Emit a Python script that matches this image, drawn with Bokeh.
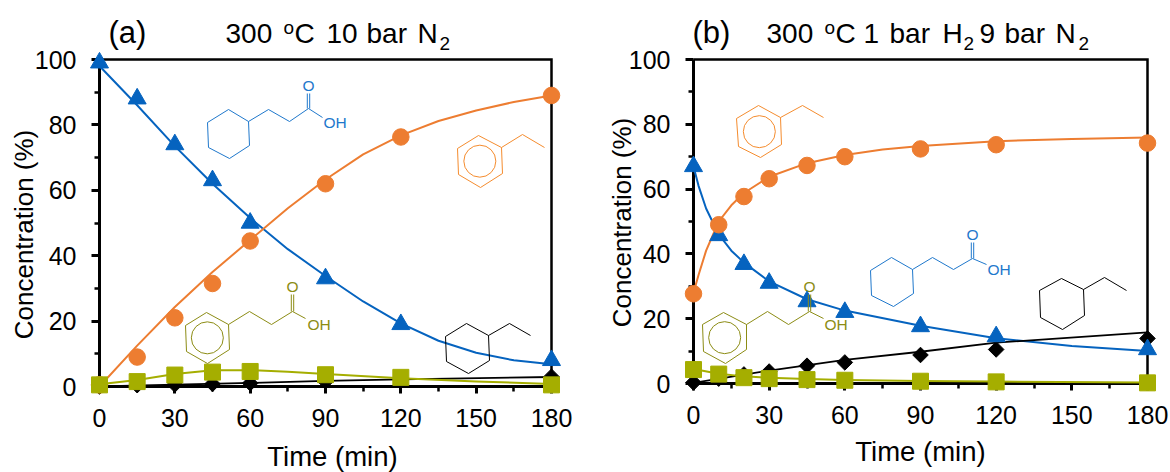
from math import pi
from bokeh.embed import file_html
from bokeh.layouts import row
from bokeh.models import FixedTicker, Label, Range1d
from bokeh.plotting import figure
from bokeh.resources import INLINE

X_MAJOR = [0, 30, 60, 90, 120, 150, 180]
X_MINOR = [15, 45, 75, 105, 135, 165]
Y_MAJOR = [0, 20, 40, 60, 80, 100]
Y_MINOR = [10, 30, 50, 70, 90]

# Panel (a) measured points
a_time = [0, 15, 30, 45, 60, 90, 120, 180]
a_acid = [99, 88, 74, 63, 50, 33, 19, 8]
a_ethylbenzene = [0.5, 9, 21, 31.5, 44.5, 62, 76.3, 89]
a_ethylcyclohexane = [0, 0.4, 0.6, 0.8, 1, 1.5, 2, 3]
a_phenylpropanoic = [0.5, 1.5, 3.5, 4.4, 4.6, 3.6, 2.8, 0.5]
# Panel (a) fitted curves
a_acid_ct = [0, 15, 30, 45, 60, 75, 90, 105, 120, 135, 150, 165, 180]
a_acid_c = [98, 86, 73.5, 62, 51.5, 42, 33.8, 26, 19.3, 14, 10.3, 8, 6.8]
a_eb_ct = [0, 15, 30, 45, 60, 75, 90, 105, 120, 135, 150, 165, 180]
a_eb_c = [0, 12.5, 24.3, 35, 44.8, 54.5, 63.3, 71, 76.8, 81.2, 84.4, 87, 89]
a_ec_ct = [0, 60, 90, 120, 180]
a_ec_c = [0, 1.1, 1.7, 2.2, 2.9]
a_pp_ct = [0, 15, 30, 45, 60, 75, 90, 120, 150, 180]
a_pp_c = [0.7, 2, 3.8, 5, 5, 4.5, 3.8, 2.5, 1.5, 0.8]

# Panel (b) measured points
b_time = [0, 10, 20, 30, 45, 60, 90, 120, 180]
b_acid = [67, 45.7, 36.8, 31, 25.3, 22, 17.6, 14.5, 10.5]
b_ethylbenzene = [27.7, 49, 57.7, 63.2, 67.3, 70, 72.4, 73.7, 74.2]
b_ethylcyclohexane = [0.3, 1.5, 2.8, 3.7, 5.5, 6.5, 8.8, 10.5, 13.9]
b_phenylpropanoic = [4.3, 2.9, 1.8, 1.5, 1.2, 1, 0.7, 0.5, 0.2]
# Panel (b) fitted curves
b_acid_ct = [0, 2, 5, 10, 15, 20, 30, 45, 60, 90, 120, 150, 180]
b_acid_c = [67, 61, 54, 46, 41, 37.3, 31.5, 26, 22.5, 17.8, 14, 11.6, 10]
b_eb_ct = [0, 2, 5, 10, 15, 20, 30, 45, 60, 75, 90, 120, 150, 180]
b_eb_c = [28, 33.5, 41, 50, 55, 58.8, 63.8, 68, 70.5, 72.2, 73.3, 74.8, 75.5, 75.9]
b_ec_ct = [0, 30, 60, 90, 120, 180]
b_ec_c = [0.2, 4, 7.3, 9.8, 12.6, 15.8]
b_pp_ct = [0, 10, 20, 30, 45, 60, 90, 120, 180]
b_pp_c = [4.5, 3, 2.2, 1.8, 1.4, 1.1, 0.8, 0.6, 0.3]

BLUE = "#0563BF"
ORANGE = "#ED7D31"
OLIVE = "#A5AE00"
BLACK = "#000000"
M_BLUE = "#1F78CC"
M_ORANGE = "#F58C2E"
M_OLIVE = "#8C8C14"
FONT = "Liberation Sans"
H = 472


def make_panel(x0, x1, y0, y100, page_left, width):
    sx = (x1 - x0) / 180
    sy = (y0 - y100) / 100

    def dx(px):
        return (px - x0) / sx

    def dy(py):
        return (y0 - py) / sy

    p = figure(
        width=width, height=H, output_backend="svg", toolbar_location=None,
        x_range=Range1d(dx(page_left), dx(page_left + width)),
        y_range=Range1d(dy(H), dy(0)),
        min_border=0, min_border_left=0, min_border_right=0, min_border_top=0, min_border_bottom=0,
        outline_line_color=None, background_fill_color="white", border_fill_color="white",
    )
    p.grid.visible = False
    for ax, major, minor, hi, mt, nt, standoff in (
        (p.xaxis[0], X_MAJOR, X_MINOR, 180, 7, 5, 15),
        (p.yaxis[0], Y_MAJOR, Y_MINOR, 100, 8, 5, 15),
    ):
        ax.ticker = FixedTicker(ticks=major, minor_ticks=minor)
        ax.fixed_location = 0
        ax.bounds = (0, hi)
        ax.axis_line_color = BLACK
        ax.axis_line_width = 3
        ax.major_tick_line_color = BLACK
        ax.major_tick_line_width = 3
        ax.major_tick_in = 0
        ax.major_tick_out = mt
        ax.minor_tick_line_color = BLACK
        ax.minor_tick_line_width = 2.5
        ax.minor_tick_in = 0
        ax.minor_tick_out = nt
        ax.major_label_standoff = standoff
        ax.major_label_text_font = FONT
        ax.major_label_text_font_size = "25px"
        ax.major_label_text_color = BLACK
    p.line([X_MAJOR[0], X_MAJOR[-1], X_MAJOR[-1]], [Y_MAJOR[-1], Y_MAJOR[-1], Y_MAJOR[0]],
           line_color=BLACK, line_width=2.5, line_join="miter", level="guide")

    def text(px, base, s, size, color=BLACK, align="left", angle=0):
        # base is the text's baseline in page pixels; labels are anchored on their middle
        mid = base - 0.33 * size if angle == 0 else base
        p.add_layout(Label(x=dx(px), y=dy(mid), text=s, text_font=FONT, text_font_size=f"{size}px",
                           text_color=color, text_align=align, text_baseline="middle",
                           angle=angle, angle_units="rad"))

    def bonds(pts, color):
        p.line([dx(a) for a, _ in pts], [dy(b) for _, b in pts], line_color=color, line_width=1,
               level="overlay")

    def ring(pts, color, circle=False):
        bonds(pts + pts[:1], color)
        if circle:
            cx = sum(a for a, _ in pts) / 6
            cy = sum(b for _, b in pts) / 6
            p.scatter([dx(cx)], [dy(cy)], marker="circle", size=32, fill_alpha=0, line_color=color,
                      line_width=1, level="overlay")

    return p, text, bonds, ring


def draw(p, t, acid, eb, ec, pp, curves):
    k = dict(level="overlay")
    for (ct, c), col, w in zip(curves, (BLUE, ORANGE, BLACK, OLIVE), (2, 2, 1.8, 2)):
        p.line(ct, c, line_color=col, line_width=w, line_join="round", **k)
    p.scatter(t, ec, marker="square", angle=pi / 4, size=11, color=BLACK, **k)
    p.scatter(t, acid, marker="triangle", size=18, color=BLUE, **k)
    p.scatter(t, eb, marker="circle", size=16.5, color=ORANGE, **k)
    p.scatter(t, pp, marker="square", size=16, color=OLIVE, **k)


def acid_tail(text, bonds, chain, oh_bond, color, o_xy, oh_xy):
    bonds(chain, color)
    cx, cy = chain[-1]
    ox, oy = o_xy
    bonds([(cx - 1.2, cy), (cx - 1.2, oy + 8)], color)
    bonds([(cx + 1.2, cy), (cx + 1.2, oy + 8)], color)
    bonds(oh_bond, color)
    text(ox, oy + 5.5, "O", 15.5, color, align="center")
    text(oh_xy[0], oh_xy[1], "OH", 15.5, color)


TS = 28

# ---------------- panel (a)
pa, ta, ba, ra = make_panel(99, 551, 386, 59, 0, 590)
draw(pa, a_time, a_acid, a_ethylbenzene, a_ethylcyclohexane, a_phenylpropanoic,
     [(a_acid_ct, a_acid_c), (a_eb_ct, a_eb_c), (a_ec_ct, a_ec_c), (a_pp_ct, a_pp_c)])
ra([(228, 109), (248, 121), (249, 145), (229, 158), (208, 147), (207, 122)], M_BLUE)
acid_tail(ta, ba, [(248, 121), (268, 109), (289, 121), (308, 108)], [(308, 108), (322, 117)],
          M_BLUE, (308, 85), (323, 127))
ra([(478, 135), (501, 147), (502, 173), (480, 187), (458, 174), (457, 148)], M_ORANGE, True)
ba([(501, 147), (522, 134), (544, 147)], M_ORANGE)
ra([(206, 312), (228, 324), (229, 349), (207, 363), (186, 351), (185, 325)], M_OLIVE, True)
acid_tail(ta, ba, [(228, 324), (249, 311), (271, 324), (292, 311)], [(292, 311), (305, 318)],
          M_OLIVE, (292, 286), (307, 329))
ra([(466, 323), (488, 335), (489, 360), (468, 373), (446, 361), (445, 336)], BLACK)
ba([(488, 335), (509, 323), (530, 335)], BLACK)
ta(108, 42, "(a)", 31)
ta(225, 42, "300", TS)
ta(283, 33, "o", 19)
ta(294, 42, "C", TS)
ta(326, 42, "10", TS)
ta(366, 42, "bar", TS)
ta(417, 42, "N", TS)
ta(439, 49, "2", 19)
ta(23, 234, "Concentration (%)", 26, align="center", angle=pi / 2)
ta(332, 465, "Time (min)", 27.5, align="center")

# ---------------- panel (b)
pb, tb, bb, rb = make_panel(693, 1147, 383, 59, 590, 580)
draw(pb, b_time, b_acid, b_ethylbenzene, b_ethylcyclohexane, b_phenylpropanoic,
     [(b_acid_ct, b_acid_c), (b_eb_ct, b_eb_c), (b_ec_ct, b_ec_c), (b_pp_ct, b_pp_c)])
rb([(758, 105), (780, 117), (781, 144), (760, 157), (738, 146), (736, 118)], M_ORANGE, True)
bb([(780, 117), (802, 105), (823, 117)], M_ORANGE)
rb([(723, 312), (746, 324), (746, 349), (725, 363), (703, 351), (702, 324)], M_OLIVE, True)
acid_tail(tb, bb, [(746, 324), (767, 311), (788, 324), (809, 311)], [(809, 311), (823, 318)],
          M_OLIVE, (809, 286), (824, 329))
rb([(891, 257), (912, 269), (913, 293), (893, 306), (871, 295), (870, 270)], M_BLUE)
acid_tail(tb, bb, [(912, 269), (932, 257), (953, 269), (972, 258)], [(972, 258), (986, 264)],
          M_BLUE, (972, 234), (987, 274))
rb([(1061, 278), (1083, 289), (1084, 315), (1062, 329), (1040, 317), (1039, 290)], BLACK)
bb([(1083, 289), (1104, 277), (1126, 290)], BLACK)
tb(692, 42, "(b)", 31)
tb(766, 42, "300", TS)
tb(824, 33, "o", 19)
tb(835, 42, "C", TS)
tb(863, 42, "1", TS)
tb(889, 42, "bar", TS)
tb(942, 42, "H", TS)
tb(963, 49, "2", 19)
tb(979, 42, "9", TS)
tb(1004, 42, "bar", TS)
tb(1055, 42, "N", TS)
tb(1078, 49, "2", 19)
tb(621, 222, "Concentration (%)", 26, align="center", angle=pi / 2)
tb(920, 460, "Time (min)", 27.5, align="center")

layout = row(pa, pb, spacing=0)
open("out.html", "w").write(file_html(layout, INLINE))
